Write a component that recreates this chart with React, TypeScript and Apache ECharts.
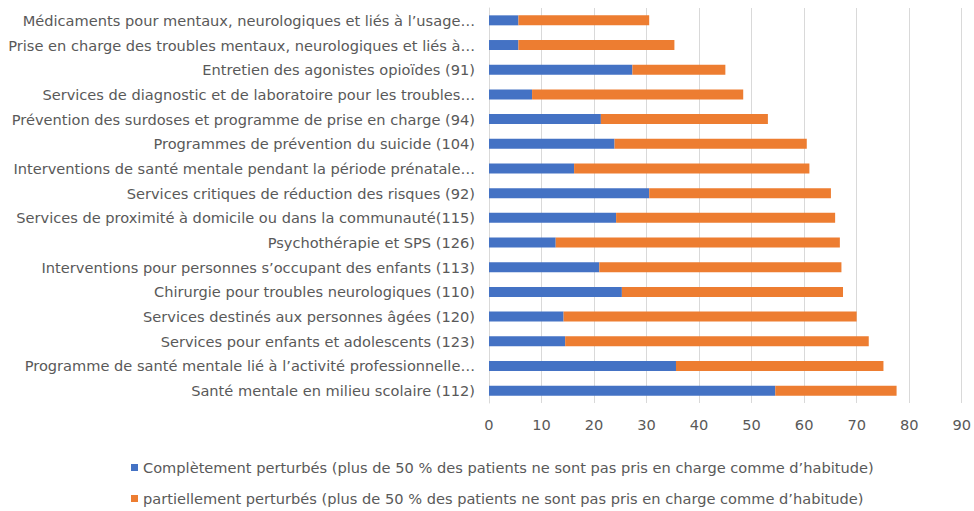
import React, { useEffect, useRef } from "react";
import * as echarts from "echarts";

const categories = [
  "Médicaments pour mentaux, neurologiques et liés à l’usage…",
  "Prise en charge des troubles mentaux, neurologiques et liés à…",
  "Entretien des agonistes opioïdes (91)",
  "Services de diagnostic et de laboratoire pour les troubles…",
  "Prévention des surdoses et programme de prise en charge (94)",
  "Programmes de prévention du suicide (104)",
  "Interventions de santé mentale pendant la période prénatale…",
  "Services critiques de réduction des risques (92)",
  "Services de proximité à domicile ou dans la communauté(115)",
  "Psychothérapie et SPS (126)",
  "Interventions pour personnes s’occupant des enfants (113)",
  "Chirurgie pour troubles neurologiques (110)",
  "Services destinés aux personnes âgées (120)",
  "Services pour enfants et adolescents (123)",
  "Programme de santé mentale lié à l’activité professionnelle…",
  "Santé mentale en milieu scolaire (112)",
];

const completelyDisrupted = [5.6, 5.6, 27.3, 8.2, 21.3, 23.9, 16.2, 30.5, 24.2, 12.7, 21.0, 25.3, 14.2, 14.5, 35.6, 54.5];
const partiallyDisrupted = [24.9, 29.7, 17.7, 40.2, 31.8, 36.6, 44.8, 34.6, 41.7, 54.1, 46.1, 42.1, 55.8, 57.8, 39.5, 23.1];

const seriesNames = [
  "Complètement perturbés (plus de 50 % des patients ne sont pas pris en charge comme d’habitude)",
  "partiellement perturbés (plus de 50 % des patients ne sont pas pris en charge comme d’habitude)",
];

const FONT = "DejaVu Sans";
const TEXT_COLOR = "#595959";
const FONT_SIZE = 14.6;

export default function App() {
  const ref = useRef<HTMLDivElement>(null);
  useEffect(() => {
    if (!ref.current) return;
    const chart = echarts.init(ref.current, null, { renderer: "svg" });
    const legendCommon = {
      orient: "horizontal",
      left: 126,
      itemWidth: 7,
      itemHeight: 7,
      icon: "rect",
      textStyle: { color: TEXT_COLOR, fontSize: FONT_SIZE, fontFamily: FONT },
    };
    chart.setOption({
      animation: false,
      backgroundColor: "#ffffff",
      textStyle: { fontFamily: FONT },
      grid: { left: 489, right: 10, top: 8, height: 395, containLabel: false },
      legend: [
        { ...legendCommon, top: 455, data: [seriesNames[0]] },
        { ...legendCommon, top: 486, data: [seriesNames[1]] },
      ],
      xAxis: {
        type: "value",
        min: 0,
        max: 90,
        interval: 10,
        axisLine: { show: false },
        axisTick: { show: false },
        splitLine: { lineStyle: { color: "#d9d9d9", width: 1 } },
        axisLabel: { color: TEXT_COLOR, fontSize: FONT_SIZE, fontFamily: FONT, margin: 14 },
      },
      yAxis: {
        type: "category",
        inverse: true,
        data: categories,
        axisLine: { show: true, lineStyle: { color: "#d9d9d9" } },
        axisTick: { show: false },
        axisLabel: { color: TEXT_COLOR, fontSize: FONT_SIZE, fontFamily: FONT, margin: 14 },
      },
      series: [
        {
          name: seriesNames[0],
          type: "bar",
          stack: "total",
          barWidth: 10,
          itemStyle: { color: "#4472C4" },
          data: completelyDisrupted,
        },
        {
          name: seriesNames[1],
          type: "bar",
          stack: "total",
          barWidth: 10,
          itemStyle: { color: "#ED7D31" },
          data: partiallyDisrupted,
        },
      ],
    });
    return () => chart.dispose();
  }, []);
  return (
    <div
      ref={ref}
      style={{ position: "fixed", left: 0, top: 0, width: 974, height: 511, background: "#fff" }}
    />
  );
}
